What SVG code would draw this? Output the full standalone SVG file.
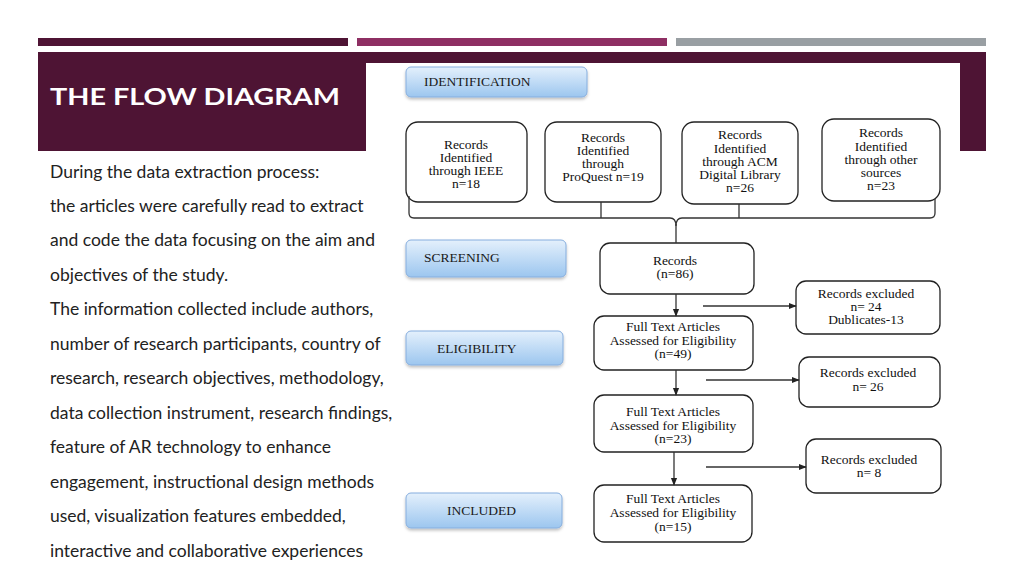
<svg xmlns="http://www.w3.org/2000/svg" width="1024" height="576" viewBox="0 0 1024 576">
<defs>
<linearGradient id="blueg" x1="0" y1="0" x2="0" y2="1">
<stop offset="0" stop-color="#e4f0fc"/>
<stop offset="1" stop-color="#9cc6ef"/>
</linearGradient>
<filter id="sh" x="-10%" y="-20%" width="120%" height="160%">
<feDropShadow dx="0" dy="2" stdDeviation="1.5" flood-color="#000" flood-opacity="0.25"/>
</filter>
<marker id="ah" viewBox="0 0 10 10" refX="9" refY="5" markerWidth="6" markerHeight="6" orient="auto">
<path d="M0,1 L10,5 L0,9 z" fill="#222"/>
</marker>
</defs>
<style>
.body{font-family:Lato,"Open Sans","DejaVu Sans",sans-serif;font-size:17.5px;fill:#222}
.title{font-family:Lato,"Open Sans",sans-serif;font-size:23px;font-weight:bold;fill:#fff}
.lab{fill:url(#blueg);stroke:#86aede;stroke-width:1}
.labt{font-family:"Liberation Serif","Times New Roman",serif;font-size:13.5px;fill:#1a1a1a}
.box{fill:#fff;stroke:#222;stroke-width:1.3}
.bt{font-family:"Liberation Serif","Times New Roman",serif;font-size:13.5px;fill:#111;text-anchor:middle}
.ln{fill:none;stroke:#333;stroke-width:1.3}
.ar{fill:none;stroke:#333;stroke-width:1.3;marker-end:url(#ah)}
</style>
<rect width="1024" height="576" fill="#fff"/>
<rect x="38" y="38" width="310" height="8" fill="#4e1434"/>
<rect x="357" y="38" width="310" height="8" fill="#8e2f63"/>
<rect x="676" y="38" width="310" height="8" fill="#999fa3"/>
<rect x="38" y="52" width="948" height="99" fill="#4e1434"/>
<text class="title" x="50" y="105" textLength="290" lengthAdjust="spacingAndGlyphs">THE FLOW DIAGRAM</text>
<rect x="366" y="63" width="594" height="498" fill="#fff"/>
<g id="bodytext" class="body">
<text x="50" y="178">During the data extraction process:</text>
<text x="50" y="212">the articles were carefully read to extract</text>
<text x="50" y="246">and code the data focusing on the aim and</text>
<text x="50" y="281">objectives of the study.</text>
<text x="50" y="315">The information collected include authors,</text>
<text x="50" y="350">number of research participants, country of</text>
<text x="50" y="384">research, research objectives, methodology,</text>
<text x="50" y="419">data collection instrument, research findings,</text>
<text x="50" y="453">feature of AR technology to enhance</text>
<text x="50" y="488">engagement, instructional design methods</text>
<text x="50" y="522">used, visualization features embedded,</text>
<text x="50" y="557">interactive and collaborative experiences</text>
</g>
<g id="identification"><rect class="lab" filter="url(#sh)" x="406" y="67" width="181" height="30" rx="5"/><text class="labt" x="424" y="86">IDENTIFICATION</text></g>
<g id="screening"><rect class="lab" filter="url(#sh)" x="406" y="240" width="160" height="37" rx="5"/><text class="labt" x="424" y="262">SCREENING</text></g>
<g id="eligibility"><rect class="lab" filter="url(#sh)" x="406" y="331" width="157" height="34" rx="5"/><text class="labt" x="437" y="353">ELIGIBILITY</text></g>
<g id="included"><rect class="lab" filter="url(#sh)" x="406" y="493" width="156" height="35" rx="5"/><text class="labt" x="447" y="515">INCLUDED</text></g>
<g id="ieee"><rect class="box" x="406" y="122" width="121" height="80" rx="12"/>
<text class="bt" x="466" y="149">Records</text><text class="bt" x="466" y="162">Identified</text><text class="bt" x="466" y="175">through IEEE</text><text class="bt" x="466" y="188">n=18</text></g>
<g id="proquest"><rect class="box" x="545" y="122" width="116" height="80" rx="12"/>
<text class="bt" x="603" y="142">Records</text><text class="bt" x="603" y="155">Identified</text><text class="bt" x="603" y="168">through</text><text class="bt" x="603" y="181">ProQuest n=19</text></g>
<g id="acm"><rect class="box" x="682" y="122" width="116" height="82" rx="12"/>
<text class="bt" x="740" y="139">Records</text><text class="bt" x="740" y="153">Identified</text><text class="bt" x="740" y="166">through ACM</text><text class="bt" x="740" y="179">Digital Library</text><text class="bt" x="740" y="192">n=26</text></g>
<g id="other"><rect class="box" x="822" y="119" width="118" height="82" rx="12"/>
<text class="bt" x="881" y="137">Records</text><text class="bt" x="881" y="151">Identified</text><text class="bt" x="881" y="164">through other</text><text class="bt" x="881" y="177">sources</text><text class="bt" x="881" y="190">n=23</text></g>
<g id="records86"><rect class="box" x="600" y="243" width="154" height="51" rx="10"/>
<text class="bt" x="675" y="265">Records</text><text class="bt" x="675" y="278">(n=86)</text></g>
<g id="ft49"><rect class="box" x="594" y="316" width="159" height="54" rx="10"/>
<text class="bt" x="673" y="331">Full Text Articles</text><text class="bt" x="673" y="345">Assessed for Eligibility</text><text class="bt" x="673" y="358">(n=49)</text></g>
<g id="ft23"><rect class="box" x="594" y="395" width="159" height="57" rx="10"/>
<text class="bt" x="673" y="416">Full Text Articles</text><text class="bt" x="673" y="430">Assessed for Eligibility</text><text class="bt" x="673" y="443">(n=23)</text></g>
<g id="ft15"><rect class="box" x="594" y="485" width="158" height="57" rx="10"/>
<text class="bt" x="673" y="503">Full Text Articles</text><text class="bt" x="673" y="517">Assessed for Eligibility</text><text class="bt" x="673" y="531">(n=15)</text></g>
<g id="excl24"><rect class="box" x="796" y="281" width="144" height="53" rx="10"/>
<text class="bt" x="866" y="298">Records excluded</text><text class="bt" x="866" y="311">n= 24</text><text class="bt" x="866" y="324">Dublicates-13</text></g>
<g id="excl26"><rect class="box" x="799" y="357" width="141" height="50" rx="10"/>
<text class="bt" x="868" y="377">Records excluded</text><text class="bt" x="868" y="391">n= 26</text></g>
<g id="excl8"><rect class="box" x="806" y="439" width="135" height="54" rx="10"/>
<text class="bt" x="869" y="464">Records excluded</text><text class="bt" x="869" y="477">n= 8</text></g>
<g id="connectors">
<path class="ln" d="M409,196 L409,213 Q409,218 414,218 L670,218 Q676,218 676,226 M676,226 Q676,218 682,218 L930,218 Q935,218 935,213 L935,199"/>
<path class="ln" d="M601,202 L601,218 M739,204 L739,218 M676,224 L676,243"/>
<path class="ar" d="M676,294 L676,316"/>
<path class="ar" d="M676,370 L676,395"/>
<path class="ar" d="M674,452 L674,485"/>
<path class="ar" d="M703,306 L796,306"/>
<path class="ar" d="M706,380 L799,380"/>
<path class="ar" d="M706,467 L806,467"/>
</g>
</svg>
